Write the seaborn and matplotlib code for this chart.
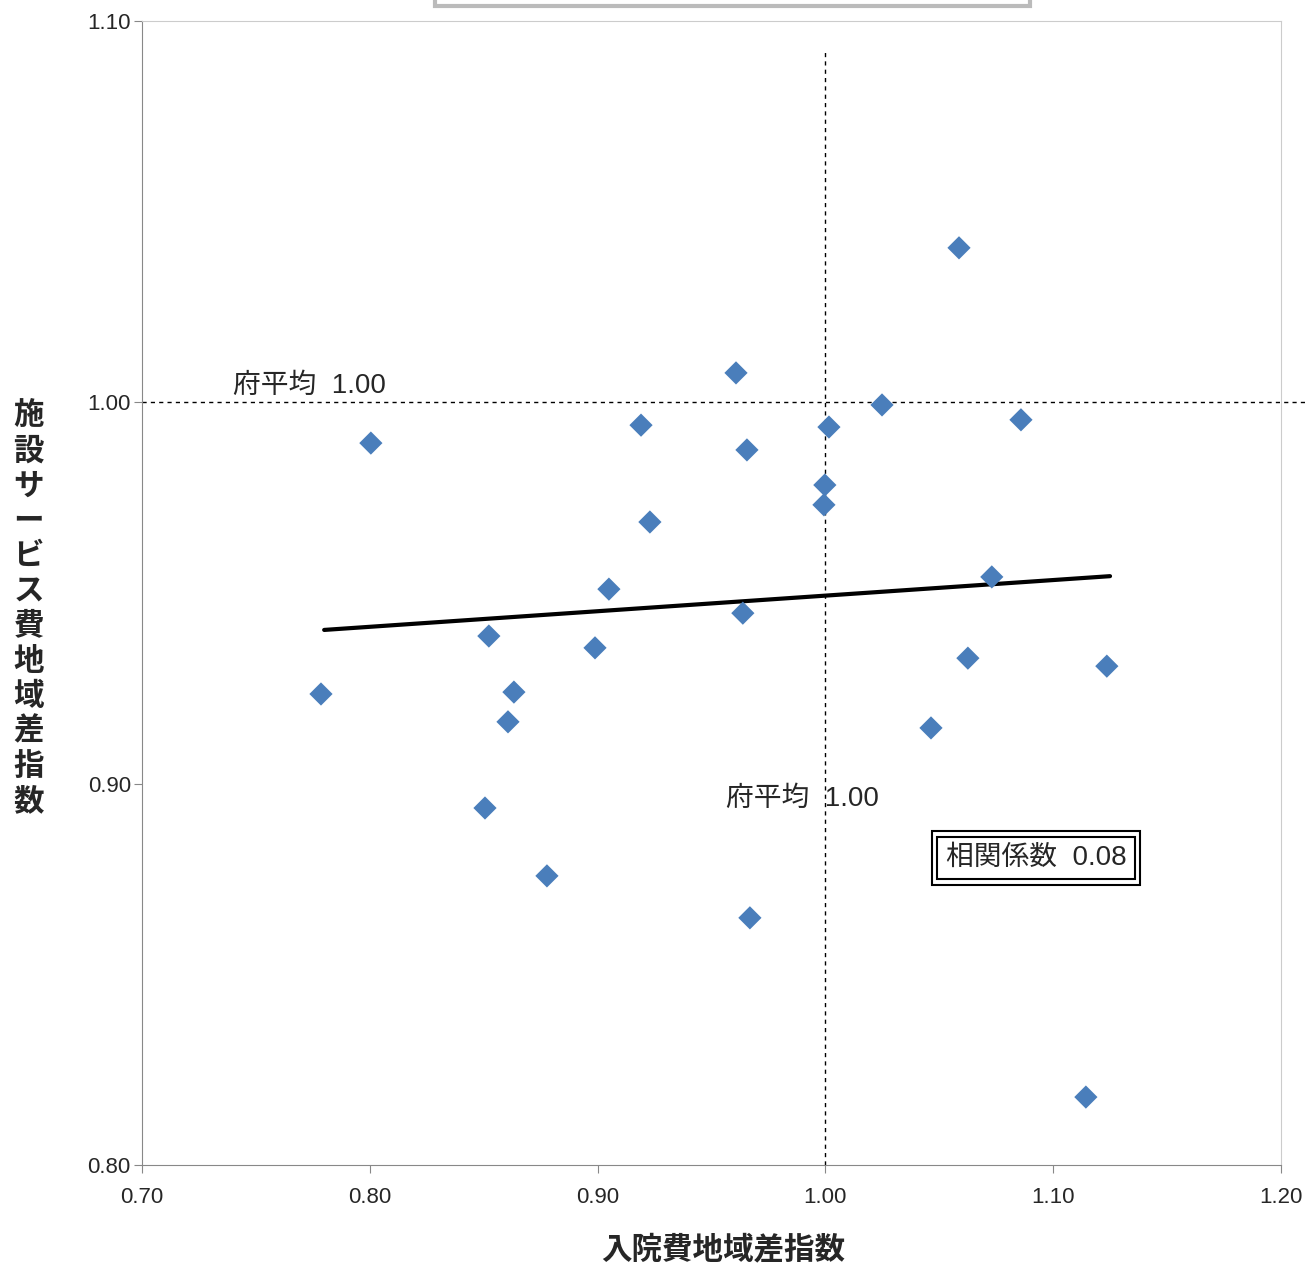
import matplotlib
matplotlib.use("Agg")
import matplotlib.pyplot as plt
import seaborn as sns
import numpy as np
import pandas as pd

sns.set_style("white")
plt.rcParams['font.family'] = ['Liberation Sans', 'Noto Sans CJK JP', 'DejaVu Sans']

x_vals = [1.0587, 0.9608, 1.0249, 1.0859, 0.9191, 1.0016, 0.8005, 0.9656, 0.9998, 0.9994,
          0.9230, 1.0731, 0.9050, 0.9638, 0.8523, 0.8989, 1.0626, 1.1236, 0.7786, 0.8633,
          0.8607, 1.0464, 0.8506, 0.8778, 0.9669, 1.1144]
y_vals = [1.0405, 1.0077, 0.9993, 0.9954, 0.9940, 0.9935, 0.9893, 0.9875, 0.9783, 0.9731,
          0.9686, 0.9542, 0.9510, 0.9447, 0.9387, 0.9356, 0.9329, 0.9308, 0.9235, 0.9240,
          0.9162, 0.9146, 0.8936, 0.8758, 0.8648, 0.8178]
trend_x = [0.78, 1.125]
trend_y = [0.9403, 0.9544]
xticks = [0.70, 0.80, 0.90, 1.00, 1.10, 1.20]
yticks = [0.80, 0.90, 1.00, 1.10]

df = pd.DataFrame({"x": x_vals, "y": y_vals})
fig = plt.figure(figsize=(13.07, 12.69), dpi=100)
ax = fig.add_axes([0.1086, 0.082, 0.8714, 0.9015])
sns.scatterplot(data=df, x="x", y="y", marker="D", s=140, color="#4a7ebb",
                edgecolor="none", ax=ax, zorder=3)
ax.plot(trend_x, trend_y, color="black", lw=3, zorder=2)
ax.plot([0.70, 1.2275], [1.0, 1.0], ls=(0, (3, 3)), color="black", lw=1, clip_on=False)
ax.plot([1.0, 1.0], [0.80, 1.092], ls=(0, (3, 3)), color="black", lw=1)
ax.set_xlim(0.70, 1.20)
ax.set_ylim(0.80, 1.10)
ax.set_xticks(xticks)
ax.set_xticklabels([f"{v:.2f}" for v in xticks], fontsize=16)
ax.set_yticks(yticks)
ax.set_yticklabels([f"{v:.2f}" for v in yticks], fontsize=16)
ax.tick_params(axis="both", direction="out", length=6, color="#888888", bottom=True, left=True)
ax.tick_params(axis="x", pad=10)
ax.tick_params(axis="y", pad=2)
for s in ["left", "bottom"]:
    ax.spines[s].set_color("#888888")
for s in ["top", "right"]:
    ax.spines[s].set_color("#cccccc")
ax.set_xlabel("")
ax.set_ylabel("")
ax.text(0.740, 1.001, "府平均  1.00", fontsize=20, ha="left", va="bottom")
ax.text(0.9565, 0.8925, "府平均  1.00", fontsize=20, ha="left", va="bottom")
ax.text(1.0925, 0.8805, "相関係数  0.08", fontsize=20, ha="center", va="center", color="none",
        bbox=dict(boxstyle="square,pad=0.5", fc="white", ec="black", lw=1.5))
ax.text(1.0925, 0.8805, "相関係数  0.08", fontsize=20, ha="center", va="center",
        bbox=dict(boxstyle="square,pad=0.3", fc="white", ec="black", lw=1.5))
fig.text(0.553, 0.003, "入院費地域差指数", fontsize=22, fontweight="bold", ha="center", va="bottom")
fig.text(0.022, 0.52, "\n".join("施設サービス費地域差指数"), fontsize=22, fontweight="bold",
         ha="center", va="center", linespacing=1.22)
fig.patches.append(plt.Rectangle((0.333, 0.995), 0.455, 0.01, transform=fig.transFigure,
                                 fc="white", ec="#bbbbbb", lw=3))
fig.savefig("out.png", dpi=100)
